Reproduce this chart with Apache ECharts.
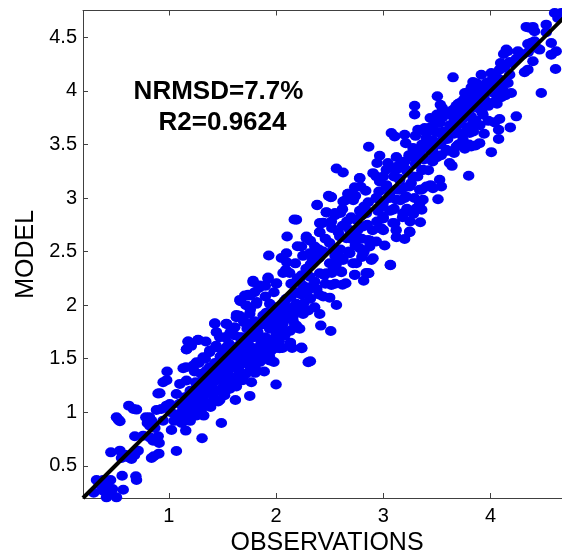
<!DOCTYPE html>
<html><head><meta charset="utf-8">
<style>html,body{margin:0;padding:0;background:#fff}#c{width:562px;height:554px}</style>
<script src="https://cdn.jsdelivr.net/npm/echarts@6/dist/echarts.min.js"></script>
</head><body><div id="c"></div>
<script>
const xTicks = [1,2,3,4];
const yTicks = [0.5,1,1.5,2,2.5,3,3.5,4,4.5];
const fitLine = [[0.2,0.2],[4.75,4.75]];
const note1 = 'NRMSD=7.7%';
const note2 = 'R2=0.9624';
const pointsLow = [[.326,.368],[.388,.368],[.457,.368],[.373,.315],[.419,.283],[.475,.283],[.388,.268],[.419,.206],[.512,.206],[.575,.277],[.565,.408],[.693,.402],[.699,.368],[.46,.626],[.544,.642],[.59,.604],[.559,.573],[.652,.564],[.62,.58],[.714,.642],[.68,.6],[.839,.573],[.907,.614],[.86,.59],[1.071,.639],[1.31,.757],[1.49,.9],[1.326,.969],[1.158,.829],[.512,.953],[.544,.916],[.53,.93],[.627,1.062],[.699,1.025],[.67,1.03],[.683,.776],[.761,.782],[.823,.766],[.901,.776],[.91,.713],[.854,.735],[.786,.953],[.82,.953],[.823,.875],[.87,.854],[.8,.9],[.84,.92],[.885,1.022],[.978,1.062],[.93,1.03],[.916,1.178],[.947,1.28],[.98,1.3],[.984,1.38],[.9,1.175],[.35,.33],[.43,.33],[.3,.25],[.46,.25]];
const pointsA = [[1.134,1.411],[1.16,1.42],[1.18,1.66],[1.165,1.586],[1.21,1.62],[1.273,1.676],[1.345,1.66],[1.429,1.826],[1.537,1.826],[1.615,1.794],[1.02,1.0],[1.05,.92],[1.08,.98],[1.1,1.08],[1.12,.9],[1.13,1.02],[1.15,1.14],[1.16,.96],[1.18,1.06],[1.2,.92],[1.2,1.2],[1.22,1.0],[1.23,1.12],[1.25,1.28],[1.26,.97],[1.27,1.06],[1.28,1.18],[1.3,1.36],[1.3,1.02],[1.32,1.12],[1.33,1.24],[1.35,1.08],[1.36,1.3],[1.37,1.18],[1.38,1.42],[1.39,1.05],[1.4,1.24],[1.41,1.34],[1.42,1.13],[1.43,1.46],[1.44,1.2],[1.45,1.3],[1.46,1.1],[1.47,1.38],[1.48,1.52],[1.49,1.22],[1.5,1.32],[1.5,1.58],[1.51,1.42],[1.52,1.16],[1.53,1.26],[1.54,1.48],[1.55,1.36],[1.56,1.64],[1.57,1.22],[1.58,1.3],[1.59,1.55],[1.6,1.42],[1.61,1.72],[1.62,1.33],[1.63,1.24],[1.64,1.5],[1.65,1.62],[1.66,1.38],[1.67,1.45],[1.68,1.7],[1.69,1.3],[1.7,1.55],[1.72,1.36],[1.73,1.78],[1.74,1.48],[1.75,1.62],[1.76,1.42],[1.77,1.28],[1.78,1.7],[1.79,1.55],[1.8,1.85],[1.81,1.4],[1.82,1.6],[1.83,1.75],[1.84,1.5],[1.85,1.47],[1.86,1.66],[1.87,1.82],[1.88,1.57],[1.89,1.38],[1.9,1.7],[1.91,1.93],[1.92,1.5],[1.93,1.62],[1.94,1.78],[1.95,1.57],[1.96,1.88],[1.97,1.68],[1.98,1.47],[1.99,1.98],[2.0,1.26],[2.0,1.72],[2.0,1.6],[2.02,1.85],[2.03,1.66],[2.04,1.95],[2.05,1.78],[2.06,1.6],[2.07,2.02],[2.08,1.72],[2.1,1.88],[2.12,1.97],[2.13,1.76],[2.14,2.08],[2.15,1.6],[2.16,1.9],[2.18,2.0],[2.2,2.12],[1.44,1.62],[1.34,1.5],[1.28,1.46],[1.24,1.38],[1.38,1.56],[1.52,1.7],[1.58,1.76],[1.7,1.84],[1.66,1.9],[1.76,1.96],[1.82,2.03],[1.56,1.5],[1.64,1.58],[1.48,1.42],[1.4,1.4],[1.72,1.66],[1.8,1.75],[1.92,1.84],[2.08,2.04]];
const pointsDenseLow = [[1.444,1.748],[1.693,1.872],[1.77,1.826],[1.91,1.826],[2.065,1.919],[2.19,1.81],[2.22,1.78],[2.134,1.639],[2.24,1.598],[2.3,1.467],[2.034,1.748],[2.034,1.598],[1.94,1.514],[1.94,1.483],[1.817,1.483],[1.805,1.368],[1.755,1.153],[1.621,1.115],[1.661,1.296],[1.677,1.327],[1.553,1.218],[1.475,1.115],[1.413,1.171],[1.366,1.062],[1.134,.922],[1.025,.835],[1.196,.984],[.947,.922],[1.708,2.09],[1.755,2.09],[1.786,2.215],[1.848,2.184],[1.925,2.246],[2.003,2.2],[2.065,2.3],[2.127,2.3],[2.22,2.246],[1.668,2.037],[1.817,2.012],[1.941,2.012],[2.096,2.059],[2.25,2.184],[1.63,1.888],[1.755,1.92],[1.879,1.903],[1.444,1.607],[1.32,1.514],[1.227,1.436],[1.165,1.296],[1.103,1.265],[1.071,1.171],[1.009,1.078],[1.258,1.467],[1.382,1.576],[1.475,1.7],[1.568,1.732],[1.661,1.7],[1.537,1.607],[1.661,1.576],[1.786,1.7],[1.755,1.576],[1.879,1.607],[1.941,1.67],[2.065,1.717],[2.22,1.95],[2.158,1.857],[1.102,.953],[1.165,1.016],[1.227,1.078],[1.289,1.14],[1.134,1.078],[1.196,1.171],[1.258,1.234],[1.32,1.296],[1.382,1.265],[1.444,1.327],[1.506,1.389],[1.568,1.452],[1.63,1.514],[1.568,1.327],[1.413,1.42],[1.351,1.389],[1.475,1.483],[1.537,1.545],[1.661,1.436],[1.724,1.514],[1.817,1.576],[1.879,1.514],[1.941,1.607],[2.003,1.67],[1.848,1.7],[1.972,1.794],[2.065,1.826],[2.127,1.919],[2.003,1.919],[2.096,1.981],[2.189,2.012],[2.22,2.106],[2.314,2.168]];
const pointsB = [[2.283,2.625],[2.361,2.547],[2.237,2.547],[2.594,2.64],[1.932,2.463],[2.103,2.641],[2.19,2.797],[2.17,2.8],[2.383,2.937],[2.516,3.009],[2.49,3.02],[2.671,3.04],[2.78,3.186],[2.625,2.968],[2.47,2.865],[2.6,2.86],[2.407,2.766],[2.44,2.77],[2.407,2.681],[2.283,2.641],[2.097,2.485],[2.18,2.39],[2.091,2.329],[2.1,2.4],[2.05,2.44],[1.926,2.258],[1.786,2.227],[2.004,2.205],[1.74,2.096],[1.662,2.049],[1.429,1.831],[1.538,1.825],[1.631,1.909],[1.771,1.831],[1.181,1.66],[1.274,1.675],[1.165,1.588],[1.84,2.16],[1.9,2.18],[1.72,2.0],[1.8,2.12],[1.9,2.08],[1.98,2.12],[2.2,2.55],[2.32,2.6],[2.25,2.46],[2.34,2.42],[2.4,2.52],[2.46,2.62],[2.52,2.72],[2.55,2.84],[2.4,2.44],[2.28,2.34],[2.2,2.25],[2.14,2.2],[2.24,2.28],[2.32,2.38],[2.44,2.5],[2.5,2.58],[2.58,2.68],[2.62,2.74],[2.66,2.78],[2.7,2.82],[2.74,3.02],[2.72,2.98],[2.78,2.88],[2.82,2.92],[2.86,2.96],[2.8,2.84],[2.32,2.476],[2.32,1.476],[2.51,1.759],[2.417,1.809],[2.237,1.604],[2.134,1.65],[2.174,1.815],[2.19,1.79],[2.081,1.722],[3.066,2.376],[2.817,2.227],[2.864,2.298],[2.84,2.3],[2.734,2.283],[2.609,2.314],[2.65,2.205],[2.62,2.19],[2.516,2.189],[2.55,2.2],[3.246,2.688],[3.09,2.766],[2.966,2.719],[3.0,2.7],[2.904,2.438],[2.749,2.392],[2.8,2.45],[2.82,2.5],[2.563,2.002],[2.407,1.918],[2.252,1.918],[2.3,1.95],[2.36,1.98],[2.44,2.08],[2.4,2.1],[2.5,2.07],[2.2,1.98],[2.26,2.02],[2.32,2.06],[2.38,2.15],[2.46,2.2],[2.3,2.14],[2.24,2.1],[2.52,2.3],[2.56,2.38],[2.45,2.28],[2.36,2.22],[2.68,2.5],[2.74,2.56],[2.8,2.62],[2.88,2.6],[2.9,2.7],[2.94,2.78],[2.62,2.44],[2.7,2.62],[2.6,2.52],[2.55,2.46],[2.76,2.7],[2.85,2.75],[2.95,2.88],[3.0,2.96],[3.06,3.0]];
const pointsC = [[3.51,2.989],[3.541,3.107],[3.525,3.17],[3.345,2.774],[3.246,2.681],[3.199,2.618],[3.122,2.634],[3.106,2.765],[3.12,2.7],[2.982,2.718],[3.0,2.81],[3.358,2.89],[3.29,3.0],[3.066,2.372],[3.013,2.556],[2.858,2.609],[2.718,2.391],[2.858,2.297],[2.733,2.282],[2.609,2.307],[2.889,2.422],[3.075,3.606],[3.106,3.575],[3.199,3.59],[3.209,3.512],[3.323,3.637],[3.386,3.653],[2.864,3.478],[2.966,3.394],[3.122,3.382],[2.942,3.326],[3.044,3.326],[2.563,3.276],[2.625,3.238],[2.78,3.185],[2.904,3.232],[2.733,3.1],[2.79,3.105],[2.836,3.067],[2.671,3.039],[2.51,3.008],[2.64,2.974],[2.383,2.933],[2.619,2.896],[2.469,2.868],[2.55,2.86],[2.414,2.759],[2.407,2.681],[2.516,2.78],[2.833,2.896],[2.935,3.0],[2.966,3.154],[3.0,3.2],[3.08,3.28],[3.14,3.3],[3.2,3.34],[3.1,3.2],[3.03,3.12],[2.96,3.06],[3.06,3.05],[3.15,3.18],[3.24,3.4],[3.28,3.44],[3.22,3.25],[3.3,3.32],[3.36,3.5],[3.4,3.56],[3.3,3.58],[3.34,3.42],[3.38,3.36],[3.44,3.44],[3.48,3.62],[3.46,3.54],[3.5,3.7],[3.55,3.75],[3.6,3.8],[3.52,3.5],[3.58,3.58],[3.62,3.68],[3.66,3.74],[3.7,3.88],[3.75,3.92],[3.74,3.74],[3.8,3.82],[3.78,3.98],[3.85,4.0],[3.84,3.9],[3.9,4.02],[3.95,4.05],[3.92,3.92],[3.98,4.08],[3.2,3.1],[3.26,3.14],[3.32,3.2],[3.36,3.26],[3.42,3.26],[3.46,3.34],[3.5,3.38],[3.54,3.4],[3.6,3.44],[3.618,3.326],[3.64,3.3],[3.66,3.42],[3.7,3.5],[3.76,3.46],[3.8,3.5],[3.82,3.481],[3.86,3.49],[3.898,3.512],[3.796,3.207],[4.007,3.428],[4.075,3.55],[4.075,3.637],[4.184,3.659],[4.038,3.706],[4.084,3.737],[4.24,3.762],[3.292,3.861],[3.292,3.78],[3.438,3.746],[3.504,3.949],[3.532,3.871],[3.65,4.126],[3.836,4.083],[3.87,4.07],[3.914,4.151],[4.007,4.167],[4.084,4.198],[3.72,3.6],[3.78,3.66],[3.84,3.62],[3.9,3.68],[3.94,3.6],[3.98,3.72],[3.7,3.7],[3.66,3.6],[3.6,3.55],[3.56,3.62],[3.86,3.72],[3.92,3.8],[3.98,3.86],[4.04,3.9],[3.88,3.84],[3.82,3.76],[3.76,3.82],[3.1,2.9],[3.16,2.98],[3.22,2.9],[3.28,2.85],[3.34,2.95],[3.25,2.78],[3.18,2.82],[3.06,2.88],[3.2,3.0],[3.12,3.08],[3.36,3.08],[3.44,3.12]];
const pointsDenseHigh = [[3.525,3.606],[3.587,3.793],[3.65,3.824],[3.712,3.886],[3.774,3.949],[3.836,3.949],[3.898,4.011],[3.96,4.073],[4.022,4.12],[4.084,4.104],[3.681,3.762],[3.743,3.824],[3.805,3.855],[3.867,3.886],[3.96,3.886],[3.929,3.777],[3.836,3.7],[3.805,3.606],[3.743,3.544],[3.681,3.481],[3.587,3.45],[3.556,3.544],[3.619,3.637],[3.712,3.7],[3.774,3.762],[3.525,3.7],[3.463,3.668],[3.401,3.606],[3.463,3.512],[3.401,3.481],[3.339,3.45],[3.277,3.466],[3.246,3.388],[3.308,3.357],[3.448,3.357],[3.184,3.326],[3.122,3.263],[3.028,3.263],[3.215,3.263],[3.37,3.263],[3.277,3.2],[3.153,3.17],[3.028,3.107],[2.935,3.2],[3.153,3.076],[3.246,3.107],[3.122,2.983],[3.215,3.014],[3.339,3.076],[3.401,3.107],[3.463,3.092],[3.37,2.983],[3.308,2.905],[3.184,2.858],[3.246,2.874],[3.091,2.89],[2.997,2.921],[2.997,2.827],[2.935,3.0],[2.842,2.858],[2.749,2.796],[2.811,2.734],[2.687,2.702],[2.656,2.625],[2.749,2.64],[2.873,2.547],[2.811,2.484],[2.935,2.594],[2.78,2.531],[2.687,2.484],[2.563,2.453],[2.5,2.391],[2.625,2.422],[2.407,2.5],[2.314,2.484],[2.532,2.516],[2.407,2.297],[2.314,2.266],[2.532,2.329],[2.469,2.297]];
const pointsHigh = [[4.597,4.727],[4.628,4.68],[4.659,4.727],[4.62,4.72],[4.333,4.597],[4.395,4.597],[4.41,4.556],[4.36,4.59],[4.519,4.618],[4.519,4.547],[4.348,4.438],[4.41,4.463],[4.38,4.45],[4.566,4.447],[4.457,4.385],[4.43,4.4],[4.566,4.338],[4.612,4.369],[4.606,4.204],[4.147,4.385],[4.122,4.344],[4.16,4.37],[4.255,4.369],[4.271,4.322],[4.178,4.269],[4.094,4.26],[4.395,4.276],[4.348,4.198],[4.317,4.173],[4.473,3.98],[4.178,4.151],[4.162,4.073],[4.193,3.98],[4.05,4.14],[4.1,4.1],[4.13,4.22],[4.2,4.26],[4.24,4.3],[4.3,4.34],[4.35,4.36],[4.03,3.98],[4.08,4.04],[4.12,4.0],[4.06,3.88],[4.02,4.08],[4.14,3.96],[3.94,3.96],[3.88,3.94],[4.0,4.0],[3.96,3.9],[4.1,3.94],[3.72,3.82],[3.68,3.86],[3.55,3.84],[3.5,3.78],[3.44,3.66],[3.4,3.62],[3.62,3.78],[3.76,3.98],[3.82,4.03],[3.46,3.44],[3.54,3.52],[3.68,3.66],[3.74,3.78],[3.8,3.9],[3.86,3.96]];
const seriesData = [].concat(pointsLow, pointsA, pointsDenseLow, pointsB, pointsC, pointsDenseHigh, pointsHigh);

const chart = echarts.init(document.getElementById('c'), null, {renderer:'canvas'});
const axisCol = '#404040';
const xBase = {type:'value',min:0.2,max:4.75,splitLine:{show:false},
  axisLine:{onZero:false,lineStyle:{color:axisCol,width:1}},
  axisTick:{inside:true,length:5,lineStyle:{color:axisCol},customValues:xTicks}};
chart.setOption({
  animation:false,backgroundColor:'#fff',
  grid:{left:83,top:10.5,width:488,height:487.5,outerBoundsMode:'none'},
  xAxis:[Object.assign({},xBase,{position:'bottom',name:'OBSERVATIONS',nameLocation:'middle',nameGap:33,
      nameTextStyle:{fontFamily:'Liberation Sans',fontSize:25,color:'#000'},
      axisLabel:{customValues:xTicks,fontFamily:'Liberation Sans',fontSize:20,color:'#000',margin:8}}),
    Object.assign({},xBase,{position:'top',axisLabel:{show:false}})],
  yAxis:{type:'value',min:0.2,max:4.75,splitLine:{show:false},
    name:'MODEL',nameLocation:'middle',nameGap:44,nameRotate:90,
    nameTextStyle:{fontFamily:'Liberation Sans',fontSize:25,color:'#000'},
    axisLine:{onZero:false,lineStyle:{color:axisCol,width:1}},
    axisTick:{inside:true,length:5,lineStyle:{color:axisCol},customValues:yTicks},
    axisLabel:{customValues:yTicks,fontFamily:'Liberation Sans',fontSize:20,color:'#000',margin:6}},
  series:[
    {type:'scatter',data:seriesData,symbol:'circle',symbolSize:[11.5,10],itemStyle:{color:'#0000f5',opacity:1},clip:true,z:2},
    {type:'line',data:fitLine,symbol:'none',lineStyle:{color:'#000',width:4},z:3,clip:true}
  ],
  graphic:[
    {type:'text',z:10,style:{x:218.5,y:92,text:note1,textAlign:'center',textVerticalAlign:'middle',font:'bold 26px "Liberation Sans"',fill:'#000'}},
    {type:'text',z:10,style:{x:222.5,y:123,text:note2,textAlign:'center',textVerticalAlign:'middle',font:'bold 26px "Liberation Sans"',fill:'#000'}}
  ]
});
</script></body></html>
